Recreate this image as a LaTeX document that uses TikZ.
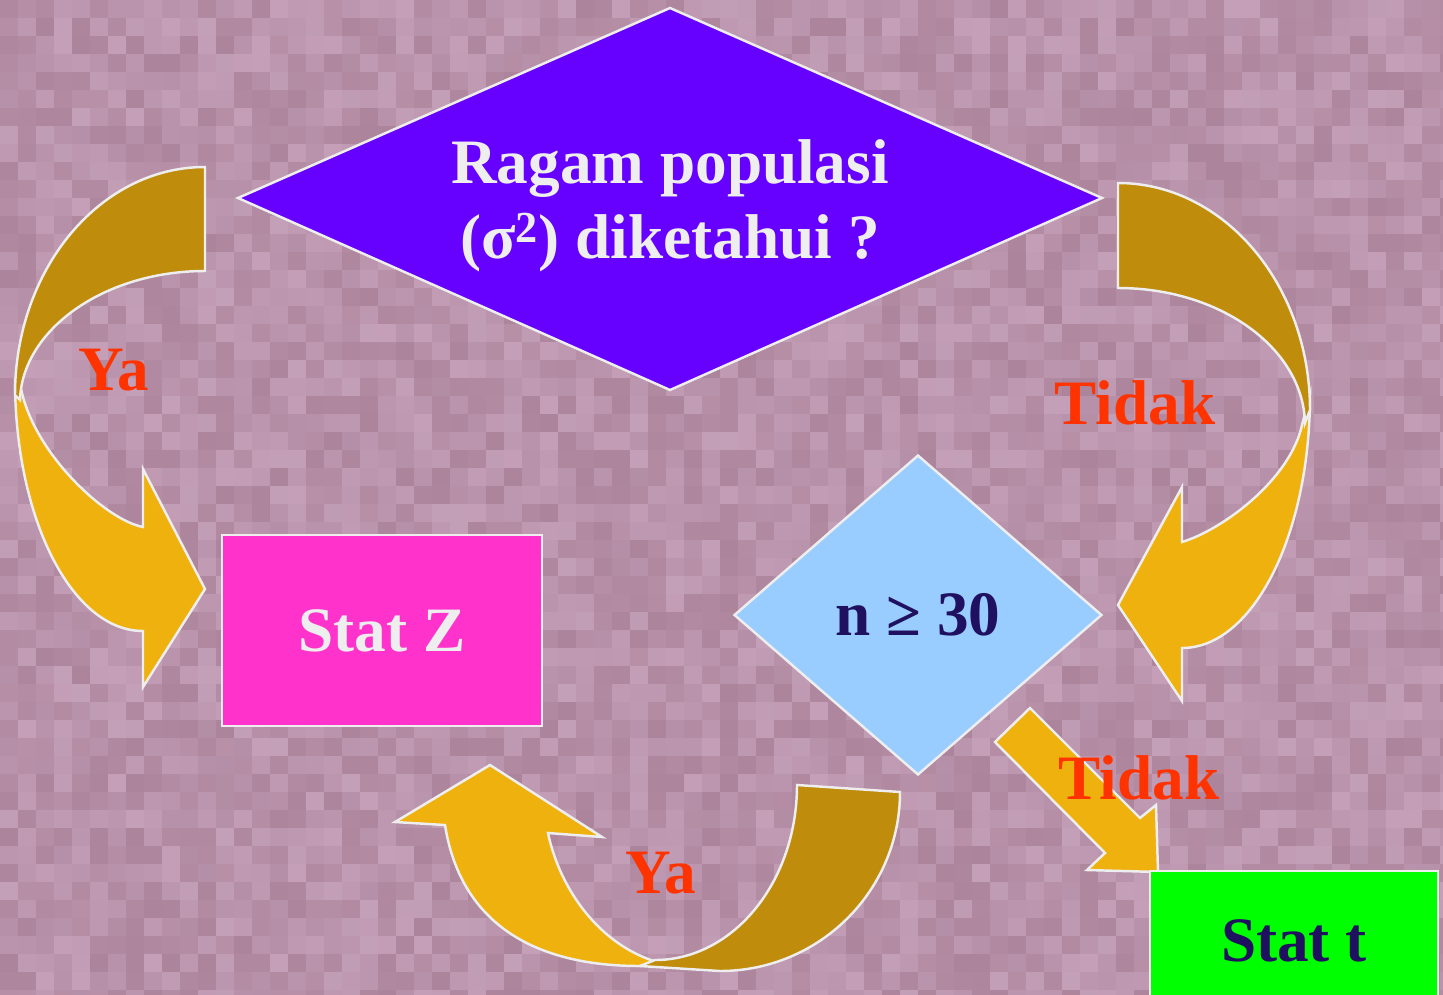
\documentclass[tikz,border=0pt]{standalone}
\usepackage{fontspec}
\setmainfont{Liberation Serif}
\usetikzlibrary{shapes.geometric}
\definecolor{bgL}{RGB}{208,174,198}
\definecolor{bgD}{RGB}{160,118,142}
\definecolor{goldL}{RGB}{238,177,14}
\definecolor{goldD}{RGB}{191,140,12}
\definecolor{edgew}{RGB}{238,238,238}
\definecolor{violetq}{RGB}{102,0,255}
\definecolor{pinkz}{RGB}{255,51,204}
\definecolor{bluen}{RGB}{153,204,255}
\definecolor{greent}{RGB}{0,255,0}
\definecolor{navyt}{RGB}{32,16,96}
\definecolor{redl}{RGB}{255,51,0}
\begin{document}
\begin{tikzpicture}[x=0.02cm,y=-0.02cm,
  bigtext/.style={font=\bfseries\fontsize{36}{42.6}\selectfont},
  shapeline/.style={draw=edgew, line width=1.4pt},
  blockarrow/.style={draw=edgew, line width=1.4pt, line join=miter},
  lbl/.style={text=redl, bigtext, inner sep=0pt}
]
\useasboundingbox (0,0) rectangle (1443,994);
% textured background
\pgfmathsetseed{7}
\foreach \i in {0,...,80}{\foreach \j in {0,...,55}{
  \pgfmathtruncatemacro\p{25+random(0,50)}
  \fill[bgD!\p!bgL] (\i*18,\j*18) rectangle ++(18.5,18.5);
}}
% left curved arrow (Ya)
\draw[blockarrow, fill=goldL] (15,380) .. controls (15,519) and (72,631) .. (143,631)
  -- (143,687) -- (205,589) -- (143,469) -- (143,527)
  .. controls (105,520) and (30,450) .. (20,383) -- cycle;
\draw[blockarrow, fill=goldD] (205,167) -- (205,271) .. controls (104,271) and (22,330) .. (20,400)
  -- (15,395) .. controls (15,269) and (100,167) .. (205,167) -- cycle;
% right curved arrow (Tidak)
\draw[blockarrow, fill=goldL] (1310,395) .. controls (1310,535) and (1253,648) .. (1182,648)
  -- (1182,701) -- (1118,605) -- (1182,487) -- (1182,542)
  .. controls (1222,530) and (1290,480) .. (1302,425) -- cycle;
\draw[blockarrow, fill=goldD] (1118,183) -- (1118,288) .. controls (1220,288) and (1303,348) .. (1305,423)
  -- (1310,410) .. controls (1310,285) and (1224,183) .. (1118,183) -- cycle;
% bottom U-turn arrow (Ya)
\draw[blockarrow, fill=goldL] (445,825) .. controls (460,920) and (530,966) .. (640,966)
  -- (657,962) .. controls (600,945) and (560,890) .. (548,833)
  -- (602,837) -- (490,765) -- (395,822) -- cycle;
\draw[blockarrow, fill=goldD] (797,785) -- (900,792) .. controls (900,891) and (819,971) .. (720,971)
  -- (640,966) -- (655,960) .. controls (733,960) and (797,882) .. (797,785) -- cycle;
% small straight arrow (Tidak)
\draw[blockarrow, fill=goldL] (995,742) -- (1030,708) -- (1140,818) -- (1156,805)
  -- (1158,872) -- (1087,870) -- (1105,853) -- cycle;
% big decision diamond
\draw[shapeline, fill=violetq] (238,198) -- (670,8) -- (1102,198) -- (670,390) -- cycle;
\node[text=edgew, bigtext, align=center, inner sep=0pt] (q1) at (670,206)
  {Ragam populasi\\(σ\textsuperscript{2}) diketahui ?};
% other nodes
\node[rectangle, shapeline, fill=pinkz, minimum width=6.4cm, minimum height=3.82cm,
  text=edgew, bigtext] (z) at (382,630.5) {Stat Z};
\node[diamond, shapeline, fill=bluen, minimum width=7.36cm, minimum height=6.4cm,
  inner sep=0pt, text=navyt, bigtext] (q2) at (918,615) {n ≥ 30};
\node[rectangle, shapeline, fill=greent, minimum width=5.76cm, minimum height=2.78cm,
  text=navyt, bigtext] (t) at (1294,940.5) {Stat t};
% labels
\node[lbl] (ya1) at (114,370) {Ya};
\node[lbl] (td1) at (1135,403) {Tidak};
\node[lbl] (td2) at (1139,778) {Tidak};
\node[lbl] (ya2) at (661,873) {Ya};
\end{tikzpicture}
\end{document}
